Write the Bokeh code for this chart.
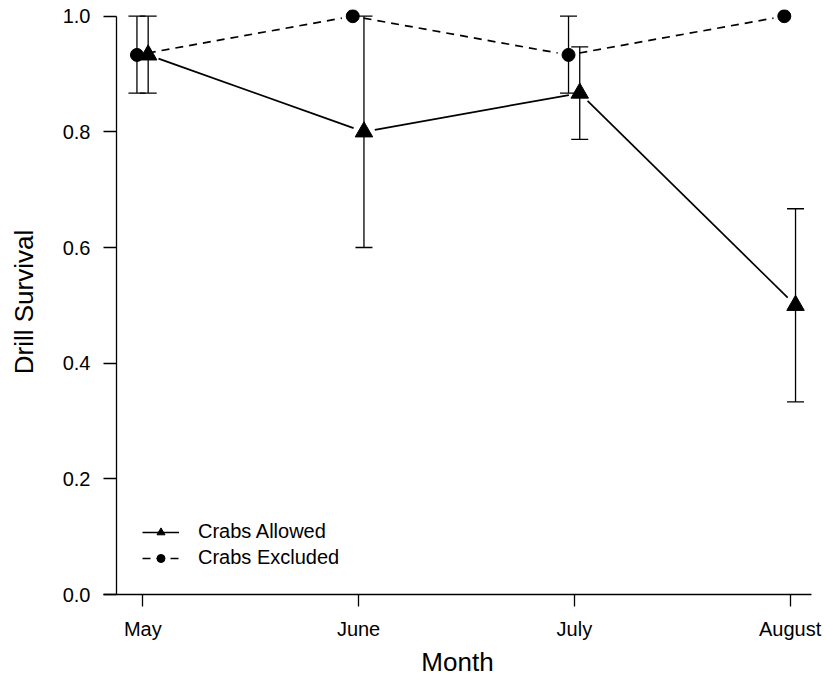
import math
from bokeh.plotting import figure
from bokeh.models import (ColumnDataSource, Whisker, TeeHead, FixedTicker, LinearAxis,
                          Legend, LegendItem, NumeralTickFormatter, Range1d, Title)
from bokeh.embed import file_html
from bokeh.resources import INLINE

# ---------------- data ----------------
months = ["May", "June", "July", "August"]
month_pos = [1, 2, 3, 4]
allowed_mean = [0.933, 0.800, 0.867, 0.500]
allowed_lower = [0.867, 0.600, 0.787, 0.333]
allowed_upper = [1.000, 1.000, 0.947, 0.667]
excluded_mean = [0.933, 1.000, 0.933, 1.000]
excluded_lower = [0.867, None, 0.867, None]
excluded_upper = [1.000, None, 1.000, None]
y_ticks = [0.0, 0.2, 0.4, 0.6, 0.8, 1.0]
allowed_offset = 0.025
excluded_offset = -0.027
x_title = "Month"
y_title = "Drill Survival"

# ---------------- layout ----------------
W, H = 822, 679
ML, MR, MT, MB = 103, 11, 9, 83
X0, X1 = 0.818, 4.099
Y0, Y1 = 0.0, 1.01155
frame_w = W - ML - MR
frame_h = H - MT - MB
sx = frame_w / (X1 - X0)
sy = frame_h / (Y1 - Y0)
y_axis_x = X0 + 13.0 / sx
FONT = "Liberation Sans"

def gapped(xs, ys, gap=11.0):
    a, b, c, d = [], [], [], []
    for i in range(len(xs) - 1):
        dx = (xs[i + 1] - xs[i]) * sx
        dy = (ys[i + 1] - ys[i]) * sy
        L = math.hypot(dx, dy)
        if L <= 2 * gap:
            continue
        f = gap / L
        a.append(xs[i] + (xs[i + 1] - xs[i]) * f)
        b.append(ys[i] + (ys[i + 1] - ys[i]) * f)
        c.append(xs[i + 1] - (xs[i + 1] - xs[i]) * f)
        d.append(ys[i + 1] - (ys[i + 1] - ys[i]) * f)
    return dict(x0=a, y0=b, x1=c, y1=d)

ax = [m + allowed_offset for m in month_pos]
ex = [m + excluded_offset for m in month_pos]

p = figure(width=W, height=H, x_range=Range1d(X0, X1), y_range=Range1d(Y0, Y1),
           output_backend="svg", toolbar_location=None,
           min_border_left=ML, min_border_right=MR, min_border_top=MT, min_border_bottom=MB)
p.outline_line_color = None
p.grid.grid_line_color = None
p.background_fill_color = "white"
p.border_fill_color = "white"

# connecting lines with gaps (type="b")
seg_a = p.segment(x0="x0", y0="y0", x1="x1", y1="y1",
                  source=ColumnDataSource(gapped(ax, allowed_mean)),
                  line_color="black", line_width=1.7)
seg_e = p.segment(x0="x0", y0="y0", x1="x1", y1="y1",
                  source=ColumnDataSource(gapped(ex, excluded_mean)),
                  line_color="black", line_width=1.7, line_dash="8 6")

# error bars
src_aerr = ColumnDataSource(dict(x=ax, lo=allowed_lower, hi=allowed_upper))
ek = [i for i in range(len(months)) if excluded_lower[i] is not None]
src_eerr = ColumnDataSource(dict(x=[ex[i] for i in ek],
                                 lo=[excluded_lower[i] for i in ek],
                                 hi=[excluded_upper[i] for i in ek]))
for src in (src_eerr, src_aerr):
    w = Whisker(base="x", lower="lo", upper="hi", source=src, dimension="height",
                line_color="black", line_width=1.3,
                upper_head=TeeHead(size=17, line_color="black", line_width=1.3),
                lower_head=TeeHead(size=17, line_color="black", line_width=1.3))
    p.add_layout(w)

# markers
sc_e = p.scatter(ex, excluded_mean, marker="circle", size=13,
                 fill_color="black", line_color="black")
sc_a = p.scatter(ax, allowed_mean, marker="triangle", size=17.5,
                 fill_color="black", line_color="black")

# axes
p.xaxis.ticker = FixedTicker(ticks=month_pos)
p.xaxis.major_label_overrides = {m: lab for m, lab in zip(month_pos, months)}
p.xaxis.minor_tick_line_color = None
p.xaxis.major_tick_in = 0
p.xaxis.major_tick_out = 12
p.xaxis.major_label_standoff = 11

p.yaxis.ticker = FixedTicker(ticks=y_ticks)
p.yaxis.formatter = NumeralTickFormatter(format="0.0")
p.yaxis.minor_tick_line_color = None
p.yaxis.major_tick_in = 13
p.yaxis.major_tick_out = 0
p.yaxis.major_label_standoff = 13
p.yaxis.axis_line_color = None
p.yaxis.axis_label = y_title
p.yaxis.axis_label_standoff = 21

for axis in (p.xaxis, p.yaxis):
    axis.major_label_text_font = FONT
    axis.major_label_text_font_size = "20px"
    axis.major_label_text_color = "black"
    axis.axis_label_text_font = FONT
    axis.axis_label_text_font_size = "26px"
    axis.axis_label_text_font_style = "normal"
    axis.axis_label_text_color = "black"
    axis.axis_line_width = 1.3
    axis.major_tick_line_width = 1.3
    axis.major_tick_line_color = "black"
p.xaxis.axis_line_color = "black"

yline = LinearAxis(fixed_location=y_axis_x, bounds=(0, 1), ticker=FixedTicker(ticks=[]),
                   major_tick_in=0, major_tick_out=0, minor_tick_in=0, minor_tick_out=0,
                   major_label_text_font_size="0px", axis_line_color="black",
                   axis_line_width=1.3)
p.add_layout(yline, "left")

# x axis title as a title panel below the axis
p.add_layout(Title(text=x_title, align="center", standoff=5,
                   text_font=FONT, text_font_size="26px", text_font_style="normal",
                   text_color="black"), "below")

legend = Legend(items=[LegendItem(label="Crabs Allowed", renderers=[seg_a, sc_a]),
                       LegendItem(label="Crabs Excluded", renderers=[seg_e, sc_e])],
                location=(39, 25), orientation="vertical",
                glyph_width=37, glyph_height=20, label_height=20, spacing=3,
                label_standoff=19, padding=0, margin=0,
                border_line_color=None, background_fill_alpha=0,
                label_text_font=FONT, label_text_font_size="20px", label_text_color="black")
p.add_layout(legend)

open("out.html", "w").write(file_html(p, INLINE))
